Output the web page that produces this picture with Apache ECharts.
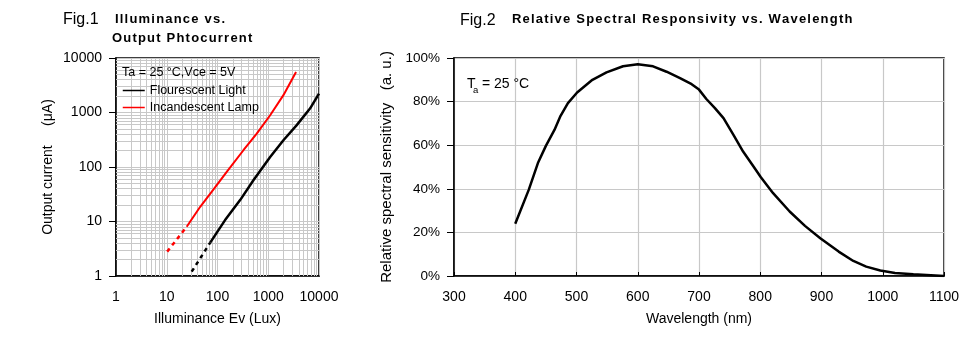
<!DOCTYPE html>
<html>
<head>
<meta charset="utf-8">
<script src="https://cdn.jsdelivr.net/npm/echarts@6/dist/echarts.min.js"></script>
<style>
html,body{margin:0;padding:0;background:#fff;}
#c{width:978px;height:337px;}
</style>
</head>
<body>
<div id="c"></div>
<script>
// ---------- Fig.1 data (log-log) ----------
const redDashLux = [10.2, 24.7];
const redDashCur = [2.8, 8.0];
const redLux = [24.7, 45.6, 83.5, 152, 324, 593, 1090, 1990, 3530];
const redCur = [8.0, 18.6, 38.7, 81.6, 203, 410, 890, 2080, 5530];
const blackDashLux = [31, 71.8];
const blackDashCur = [1.2, 4.1];
const blackLux = [71.8, 141, 279, 510, 1090, 1990, 3640, 6650, 10000];
const blackCur = [4.1, 10.6, 24.7, 57, 153, 310, 587, 1180, 2220];
const fig1Decades = [1, 10, 100, 1000];
const fig1Minor = [2, 3, 4, 5, 6, 7, 8, 9];

// ---------- Fig.2 data ----------
const wavelength = [400, 422, 437, 450, 464, 474, 486, 501, 526, 549, 576, 600, 625, 647, 669, 688, 700, 712, 726, 740, 756, 772, 789, 801, 821, 848, 873, 898, 928, 952, 973, 996, 1020, 1050, 1100];
const sensitivity = [24, 39.5, 51.8, 59.7, 67, 73.5, 79.3, 84.2, 90, 93.4, 96.2, 97.1, 96.2, 93.7, 90.8, 88, 85.5, 81.2, 77, 72.4, 64.8, 57.1, 50.2, 45.3, 38, 29.6, 23, 17.3, 11.2, 6.9, 4.3, 2.5, 1.4, 0.8, 0];

const FONT = "'Liberation Sans', Arial, sans-serif";
const zip = (a, b) => a.map((v, i) => [v, b[i]]);
const minorVals = [];
fig1Decades.forEach(d => fig1Minor.forEach(m => minorVals.push(d * m)));

function spaced(str, style) {
  return str.split('').map(ch => '{' + style + '|' + ch + '}').join('');
}

const chart = echarts.init(document.getElementById('c'));
const gridColor = '#c8c8c8';
const axisLineStyle = { lineStyle: { color: '#000', width: 1.5 } };
const noComma = v => String(Math.round(v));

chart.setOption({
  animation: false,
  backgroundColor: '#fff',
  textStyle: { fontFamily: FONT },
  grid: [
    { left: 116, top: 58, width: 203, height: 218, show: true, borderColor: '#000', borderWidth: 1.5, backgroundColor: 'transparent' },
    { left: 454, top: 58, width: 490, height: 218, show: true, borderColor: '#000', borderWidth: 1.5, backgroundColor: 'transparent' }
  ],
  xAxis: [
    {
      gridIndex: 0, type: 'log', logBase: 10, min: 1, max: 10000,
      axisLine: axisLineStyle, axisTick: { show: false },
      axisLabel: { margin: 14, fontSize: 14, color: '#000', fontFamily: FONT, formatter: noComma },
      splitLine: { show: true, lineStyle: { color: gridColor, width: 1 } },
      name: 'Illuminance Ev (Lux)', nameLocation: 'middle', nameGap: 36,
      nameTextStyle: { fontSize: 14, color: '#000', fontFamily: FONT }
    },
    {
      gridIndex: 1, type: 'value', min: 300, max: 1100, interval: 100,
      axisLine: axisLineStyle,
      axisTick: { show: true, inside: true, length: 4, lineStyle: { color: '#000' } },
      axisLabel: { margin: 14, fontSize: 14, color: '#000', fontFamily: FONT, formatter: noComma },
      splitLine: { show: true, lineStyle: { color: gridColor, width: 1.2 } },
      name: 'Wavelength (nm)', nameLocation: 'middle', nameGap: 36,
      nameTextStyle: { fontSize: 14, color: '#000', fontFamily: FONT }
    }
  ],
  yAxis: [
    {
      gridIndex: 0, type: 'log', logBase: 10, min: 1, max: 10000,
      axisLine: axisLineStyle,
      axisTick: { show: true, inside: false, length: 7, lineStyle: { color: '#000' } },
      axisLabel: { margin: 14, fontSize: 14, color: '#000', fontFamily: FONT, formatter: noComma },
      splitLine: { show: true, lineStyle: { color: gridColor, width: 1 } },
      name: 'Output current     (μA)', nameLocation: 'middle', nameGap: 61, nameRotate: 90,
      nameTextStyle: { fontSize: 14, color: '#000', fontFamily: FONT }
    },
    {
      gridIndex: 1, type: 'value', min: 0, max: 100, interval: 20,
      axisLine: axisLineStyle,
      axisTick: { show: true, inside: false, length: 7, lineStyle: { color: '#000' } },
      axisLabel: { margin: 14, fontSize: 13.5, color: '#000', fontFamily: FONT, formatter: '{value}%' },
      splitLine: { show: true, lineStyle: { color: gridColor, width: 1.2 } },
      name: 'Relative spectral sensitivity   (a. u.)', nameLocation: 'middle', nameGap: 58, nameRotate: 90,
      nameTextStyle: { fontSize: 15, color: '#000', fontFamily: FONT }
    }
  ],
  legend: {
    data: ['Flourescent Light', 'Incandescent Lamp'],
    orient: 'vertical', left: 122, top: 84, padding: 0,
    itemWidth: 22, itemHeight: 14, itemGap: 4,
    itemStyle: { opacity: 0 },
    lineStyle: { width: 1.5 },
    textStyle: { fontSize: 12.5, color: '#000', fontFamily: FONT }
  },
  series: [
    {
      name: 'minorGrid', type: 'line', xAxisIndex: 0, yAxisIndex: 0, data: [], silent: true, z: 1,
      markLine: {
        silent: true, z: 1, symbol: ['none', 'none'], label: { show: false }, animation: false,
        lineStyle: { color: gridColor, width: 1, type: 'solid' },
        emphasis: { disabled: true },
        data: minorVals.filter(v => v > 1).map(v => ({ xAxis: v })).concat(minorVals.filter(v => v > 1).map(v => ({ yAxis: v })))
      }
    },
    {
      name: 'Incandescent Lamp', type: 'line', xAxisIndex: 0, yAxisIndex: 0, z: 3,
      data: zip(redLux, redCur), symbol: 'none', color: '#ff0000',
      lineStyle: { color: '#ff0000', width: 2 }
    },
    {
      name: 'redDash', type: 'line', xAxisIndex: 0, yAxisIndex: 0, z: 3,
      data: zip(redDashLux, redDashCur), symbol: 'none',
      lineStyle: { color: '#ff0000', width: 2.5, type: [4, 4] }
    },
    {
      name: 'Flourescent Light', type: 'line', xAxisIndex: 0, yAxisIndex: 0, z: 3,
      data: zip(blackLux, blackCur), symbol: 'none', color: '#333',
      lineStyle: { color: '#000', width: 2.5 }
    },
    {
      name: 'blackDash', type: 'line', xAxisIndex: 0, yAxisIndex: 0, z: 3,
      data: zip(blackDashLux, blackDashCur), symbol: 'none',
      lineStyle: { color: '#000', width: 2.5, type: [4, 4] }
    },
    {
      name: 'sensitivity', type: 'line', xAxisIndex: 1, yAxisIndex: 1, z: 3,
      data: zip(wavelength, sensitivity), symbol: 'none',
      lineStyle: { color: '#000', width: 2.5 }
    }
  ],
  graphic: [
    { type: 'text', z: 100, left: 63, top: 12, style: { text: 'Fig.1', fontSize: 16, fill: '#000', fontFamily: FONT } },
    { type: 'text', z: 100, left: 115, top: 13, style: { text: spaced('Illuminance vs.', 'b'), rich: { b: { fontSize: 13, fontWeight: 'bold', fill: '#000', fontFamily: FONT, padding: [0, 1.2, 0, 0] } } } },
    { type: 'text', z: 100, left: 112, top: 32, style: { text: spaced('Output Phtocurrent', 'b'), rich: { b: { fontSize: 13, fontWeight: 'bold', fill: '#000', fontFamily: FONT, padding: [0, 1.2, 0, 0] } } } },
    { type: 'text', z: 100, left: 122, top: 66, style: { text: 'Ta = 25 °C,Vce = 5V', fontSize: 12.5, fill: '#000', fontFamily: FONT } },
    { type: 'text', z: 100, left: 460, top: 13, style: { text: 'Fig.2', fontSize: 16, fill: '#000', fontFamily: FONT } },
    { type: 'text', z: 100, left: 512, top: 13, style: { text: spaced('Relative Spectral Responsivity vs. Wavelength', 'b'), rich: { b: { fontSize: 13, fontWeight: 'bold', fill: '#000', fontFamily: FONT, padding: [0, 1.2, 0, 0] } } } },
    { type: 'text', z: 100, left: 467, top: 77, style: { text: 'T', fontSize: 14, fill: '#000', fontFamily: FONT } },
    { type: 'text', z: 100, left: 473, top: 85, style: { text: 'a', fontSize: 9.5, fill: '#000', fontFamily: FONT } },
    { type: 'text', z: 100, left: 478, top: 77, style: { text: ' = 25 °C', fontSize: 14, fill: '#000', fontFamily: FONT } }
  ]
});
</script>
</body>
</html>
